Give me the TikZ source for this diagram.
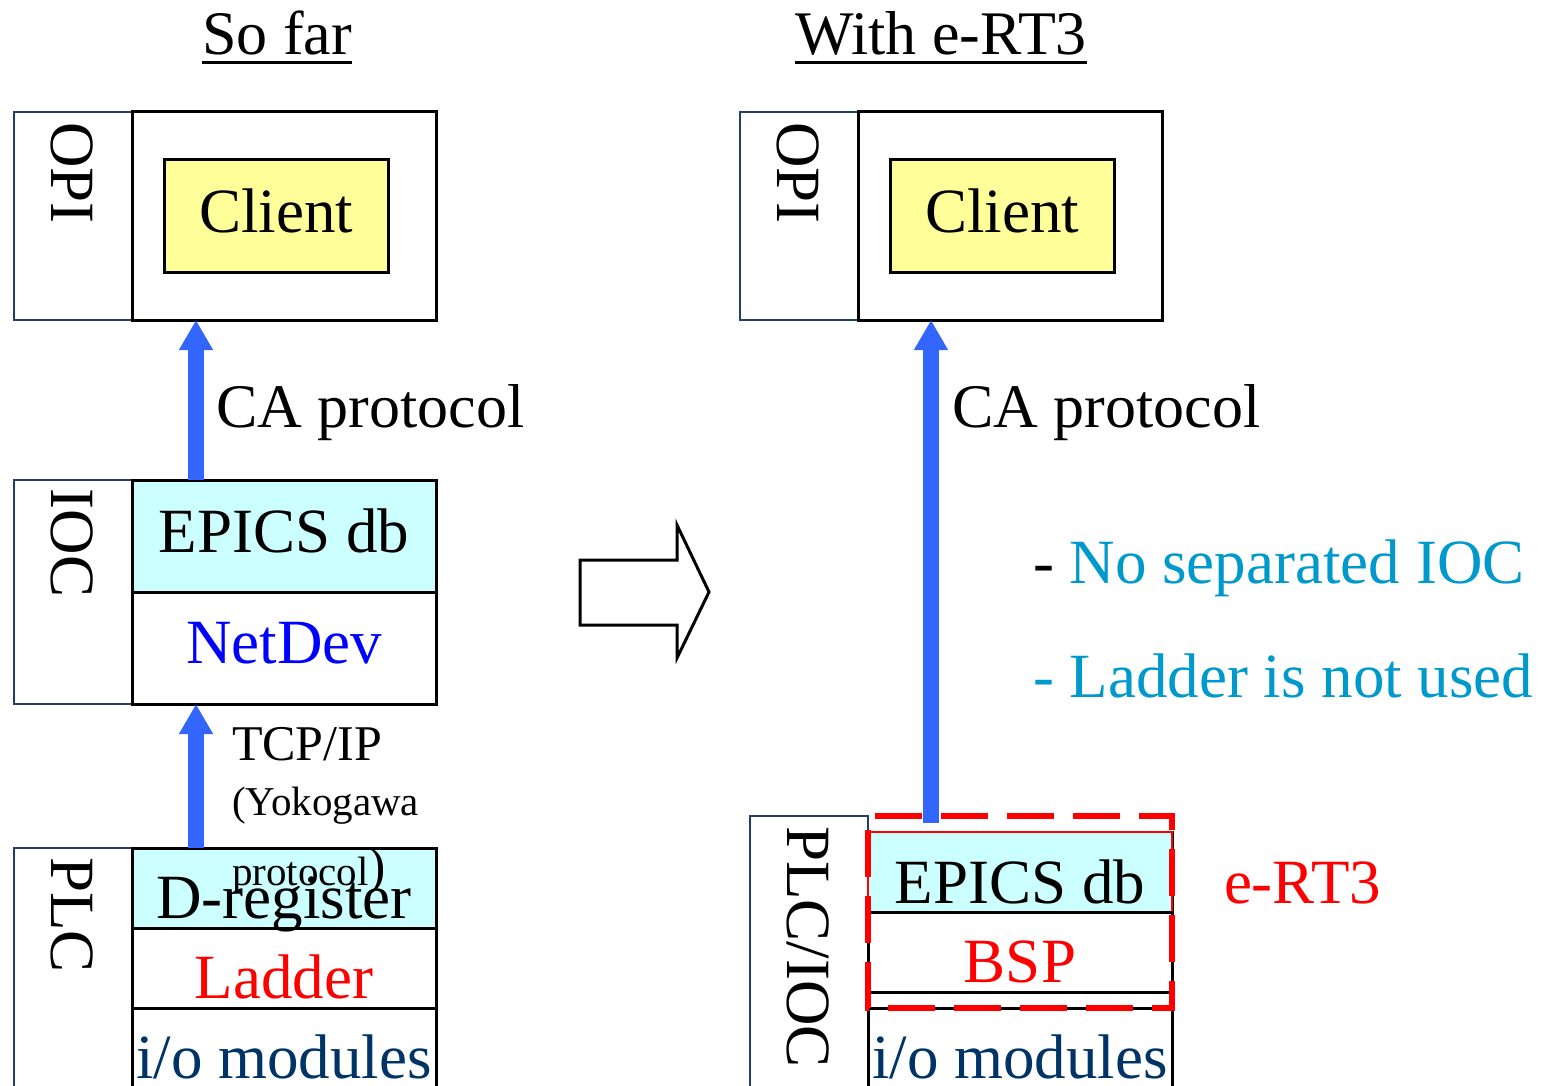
\documentclass[tikz,border=0pt]{standalone}
\usepackage{fontspec}
\setmainfont{Liberation Serif}
\usetikzlibrary{arrows.meta}
\definecolor{arrowblue}{HTML}{3366FF}
\definecolor{cyanfill}{HTML}{CCFFFF}
\definecolor{clientfill}{HTML}{FFFF99}
\definecolor{navy}{HTML}{1F3F6E}
\definecolor{iotext}{HTML}{003366}
\definecolor{notecyan}{HTML}{0099CC}
\definecolor{netblue}{HTML}{0000FF}
\newcommand\fsz[1]{\fontsize{#1}{#1}\selectfont}
\begin{document}
\begin{tikzpicture}[x=1pt,y=-1pt,
  lab/.style={draw=navy, line width=2pt, anchor=north west, inner sep=0pt, outer sep=0pt, fill=white},
  cell/.style={draw=black, line width=3pt, anchor=north west, inner sep=0pt, outer sep=0pt},
  txt/.style={inner sep=0pt, outer sep=0pt, anchor=base},
  ltxt/.style={inner sep=0pt, outer sep=0pt, anchor=base west},
  vtxt/.style={inner sep=0pt, outer sep=0pt, anchor=base, rotate=-90, font=\fsz{63}},
  big/.style={font=\fsz{63}},
  bluearrow/.style={draw=arrowblue, line width=16pt, -{Triangle[length=30pt,width=32pt]}},
  uline/.style={line width=3pt}
]
\useasboundingbox (0,0) rectangle (1549,1086);
\clip (0,0) rectangle (1549,1086);

% ---------- titles ----------
\node[txt, font=\fsz{62}] (titleL) at (277,55) {So far};
\draw[uline] ([yshift=-8pt]titleL.base west) -- ([yshift=-8pt]titleL.base east);
\node[txt, font=\fsz{62}] (titleR) at (941,55) {With e-RT3};
\draw[uline] ([yshift=-8pt]titleR.base west) -- ([yshift=-8pt]titleR.base east);

% ---------- left: OPI ----------
\node[lab, minimum width=118pt, minimum height=208pt] (opiLabL) at (14,112) {};
\node[cell, minimum width=304pt, minimum height=208pt] (opiBoxL) at (132,112) {};
\node[cell, fill=clientfill, minimum width=224pt, minimum height=112pt] (clientL) at (164,160) {};
\node[vtxt] (opiTxtL) at (51,173) {OPI};
\node[txt, big] (clientTxtL) at (276,232) {Client};

% ---------- left: IOC ----------
\node[lab, minimum width=118pt, minimum height=224pt] (iocLab) at (14,480) {};
\node[cell, fill=cyanfill, minimum width=304pt, minimum height=112pt] (epicsL) at (132,480) {};
\node[cell, minimum width=304pt, minimum height=112pt] (netdev) at (132,592) {};
\node[vtxt] (iocTxt) at (51,543) {IOC};
\node[txt, big] (epicsTxtL) at (284,552) {EPICS db};
\node[txt, big, text=netblue] (netdevTxt) at (284,663) {NetDev};

% ---------- left: PLC ----------
\node[lab, minimum width=118pt, minimum height=260pt] (plcLab) at (14,848) {};
\node[cell, fill=cyanfill, minimum width=304pt, minimum height=80pt] (dreg) at (132,848) {};
\node[cell, minimum width=304pt, minimum height=80pt] (ladder) at (132,928) {};
\node[cell, minimum width=304pt, minimum height=100pt] (ioL) at (132,1008) {};
\node[vtxt] (plcTxt) at (51,915) {PLC};
\node[txt, big] (dregTxt) at (284,918) {D-register};
\node[txt, big, text=red] (ladderTxt) at (284,998) {Ladder};
\node[txt, big, text=iotext] (ioTxtL) at (284,1078) {i/o modules};

% ---------- left arrows ----------
\draw[bluearrow] ([xshift=64pt]epicsL.north west) -- ([xshift=64pt]opiBoxL.south west);
\node[ltxt, font=\fsz{62}] (caL) at (216,427) {CA protocol};
\draw[bluearrow] ([xshift=64pt]dreg.north west) -- ([xshift=64pt]netdev.south west);
\node[ltxt, font=\fsz{50}] (tcp) at (232,760) {TCP/IP};
\node[ltxt, font=\fsz{41}] (yoko) at (232,815) {(Yokogawa};
\node[ltxt, font=\fsz{41}] (proto) at (232,885) {protocol\raisebox{2pt}{\fsz{52})}};

% ---------- transition arrow ----------
\draw[line width=3pt, line join=miter, fill=white]
  (580,560) -- (677,560) -- (677,525) -- (709,592) -- (677,658) -- (677,625) -- (580,625) -- cycle;

% ---------- right: OPI ----------
\node[lab, minimum width=118pt, minimum height=208pt] (opiLabR) at (740,112) {};
\node[cell, minimum width=304pt, minimum height=208pt] (opiBoxR) at (858,112) {};
\node[cell, fill=clientfill, minimum width=224pt, minimum height=112pt] (clientR) at (890,160) {};
\node[vtxt] (opiTxtR) at (777,173) {OPI};
\node[txt, big] (clientTxtR) at (1002,232) {Client};

% ---------- right: PLC/IOC ----------
\node[lab, minimum width=118pt, minimum height=290pt] (plciocLab) at (750,816) {};
\draw[line width=3pt] (868,832) rectangle (1172,1110);
\node[cell, draw=red, line width=2pt, fill=cyanfill, minimum width=304pt, minimum height=80pt] (epicsR) at (868,832) {};
\node[cell, minimum width=304pt, minimum height=80pt] (bsp) at (868,912) {};
\node[cell, minimum width=304pt, minimum height=100pt] (ioR) at (868,1008) {};
\node[vtxt] (plciocTxt) at (787,947) {PLC/IOC};
\node[txt, big] (epicsTxtR) at (1020,903) {EPICS db};
\node[txt, big, text=red] (bspTxt) at (1020,982) {BSP};
\node[txt, big, text=iotext] (ioTxtR) at (1020,1078) {i/o modules};
\node[anchor=north west, inner sep=0pt, outer sep=0pt,
      minimum width=304pt, minimum height=192pt] (ert3box) at (868,816) {};
\draw[draw=red, line width=5.5pt, dash pattern=on 47pt off 19pt, dash phase=-7pt]
  (ert3box.north west) -- (ert3box.north east) -- (ert3box.south east) -- (ert3box.south west) -- cycle;
\node[ltxt, font=\fsz{63}, text=red] (ert3Txt) at (1224,903) {e-RT3};

% ---------- right arrow ----------
\draw[bluearrow] ([xshift=63pt,yshift=-7pt]ert3box.north west) -- ([xshift=73pt]opiBoxR.south west);
\node[ltxt, font=\fsz{62}] (caR) at (952,427) {CA protocol};

% ---------- notes ----------
\node[ltxt, font=\fsz{63}] (note1) at (1033,583) {-\hspace{0.25em}\textcolor{notecyan}{No separated IOC}};
\node[ltxt, font=\fsz{63}, text=notecyan] (note2) at (1033,697) {-\hspace{0.25em}Ladder is not used};
\end{tikzpicture}
\end{document}
